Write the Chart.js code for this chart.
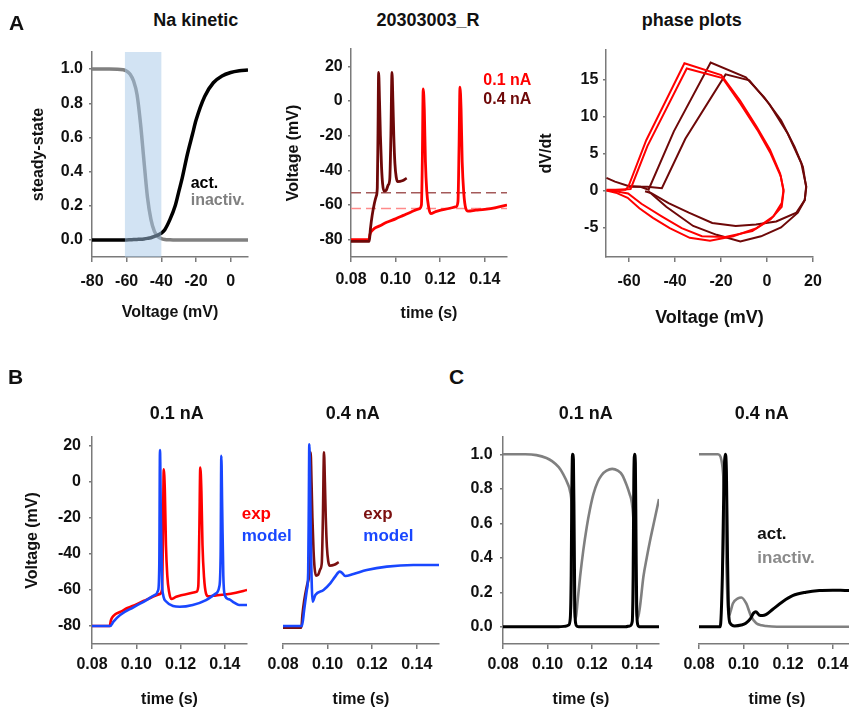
<!DOCTYPE html>
<html><head><meta charset="utf-8">
<script src="https://cdn.jsdelivr.net/npm/chart.js@4.4.0/dist/chart.umd.min.js"></script>
<style>
html,body{margin:0;padding:0;width:849px;height:711px;overflow:hidden;background:#fff;position:relative;}
canvas{position:absolute;}
.t{position:absolute;font-family:"Liberation Sans",Arial,Helvetica,sans-serif;font-weight:bold;white-space:nowrap;line-height:1;}
</style></head><body>
<script>
// ---------- DATA ----------
// A: Na kinetic (steady-state vs voltage)
const naV     = [-80,-70,-62,-60,-58,-56,-54,-52,-50,-48,-46,-44,-42,-40,-38,-35,-32,-30,-28,-25,-22,-20,-15,-10,-5,0,5,10];
const naAct   = [0,0,0,0,0.001,0.002,0.003,0.004,0.006,0.009,0.013,0.02,0.028,0.04,0.06,0.12,0.2,0.28,0.36,0.5,0.62,0.7,0.84,0.92,0.96,0.98,0.99,0.995];
const naInact = [1,1,0.996,0.988,0.97,0.93,0.85,0.68,0.46,0.25,0.12,0.05,0.02,0.008,0.003,0.001,0,0,0,0,0,0,0,0,0,0,0,0];
const shadeRange = [-61, -40];

// experimental traces (time s, voltage mV)
const tExp01 = [0.080,0.0880,0.0885,0.0890,0.0905,0.0930,0.0960,0.1000,0.1035,0.1070,0.1105,0.1116,0.1120,0.1124,0.1129,0.1134,0.1140,0.1148,0.1158,0.1180,0.1220,0.1272,0.1280,0.1285,0.1289,0.1294,0.1299,0.1306,0.1315,0.1325,0.1360,0.1400,0.1450,0.1500];
const vExp01 = [-80,-80,-77,-75.5,-73.5,-72,-70,-68,-66,-64,-62.3,-60,-35,7,-5,-35,-52,-61,-65,-63.8,-62.5,-61,-58,-25,8,-5,-35,-53,-62,-63.5,-63,-62.5,-61.5,-60];
const tExp04 = [0.080,0.0882,0.0887,0.0895,0.0905,0.0913,0.0918,0.0921,0.0924,0.0928,0.0932,0.0937,0.0942,0.0948,0.0958,0.0967,0.0974,0.0979,0.0984,0.0988,0.0992,0.0997,0.1003,0.1010,0.1030,0.1050];
const vExp04 = [-81,-81,-74,-66,-59,-55,-50,-20,16.5,0,-20,-38,-48,-52,-51.5,-48.5,-45,-20,16.5,0,-20,-36,-44,-46.5,-46,-44.5];
const thresholds = [-53, -62];
const tSpan = [0.08, 0.15];

// phase plots (V mV, dV/dt)
const red1V  = [-69.8,-65,-61.5,-60.3,-52.5,-35.9,-19.9,-11.8,-4.5,1.3,5.7,7.2,6.4,2.8,-4.5,-14.7,-24.8,-33.6,-42.3,-49.6,-55.5,-60.6,-65.7,-69.8];
const red1D  = [0.1,0.1,0.1,0.5,6.8,17.2,15.6,12.2,8.6,5.5,2.3,0.1,-1.7,-3.5,-5.1,-6.2,-6.8,-6.4,-5.1,-3.7,-2.4,-1.0,-0.3,0.0];
const red2V  = [-69.8,-64,-59.3,-52,-34.9,-19.3,-11.5,-4.2,1.6,6.0,7.2,6.4,1.6,-6.4,-18.1,-28.3,-37.1,-45.8,-54.6,-60.4,-67.6,-69.8];
const red2D  = [0.0,0.1,0.2,6.0,16.5,15.2,11.7,8.2,5.0,1.9,-0.1,-2.2,-3.9,-5.5,-6.3,-6.2,-5.1,-3.5,-1.8,-0.4,0.0,0.0];
const dred1V = [-69.8,-66.1,-60.3,-55,-51.5,-40.5,-24.5,-9.2,-1.2,6.1,12,15.6,17,16.4,13.4,6.1,-2.6,-11.6,-21.9,-32.1,-43.8,-51.5];
const dred1D = [1.7,1.2,0.6,0.5,0.1,8.0,17.3,15.3,12.6,9.5,5.9,3.2,0.5,-1.3,-3.0,-5.0,-6.2,-6.9,-6.0,-4.8,-2.2,-0.1];
const dred2V = [-60,-52,-45.7,-35.5,-18,-7.7,1,9,14.9,17.1,16.4,12.8,4,-4.8,-13.6,-23.8,-34,-42.8,-50.1,-53];
const dred2D = [0.5,0.5,0.3,7.0,15.7,14.9,11.7,7.7,3.7,0.5,-1.3,-3.0,-4.2,-4.6,-4.8,-4.4,-3.0,-1.7,-0.4,-0.1];

// model traces
const tMod01 = [0.080,0.0882,0.0897,0.0927,0.0987,0.1046,0.1084,0.1099,0.1104,0.1107,0.1111,0.1116,0.1121,0.1136,0.1166,0.1196,0.1255,0.1315,0.1360,0.1375,0.1381,0.1384,0.1388,0.1393,0.1400,0.1419,0.1442,0.1464,0.1500];
const vMod01 = [-80,-80,-77.6,-73.9,-69.6,-65.6,-62.8,-60,-45,17.8,-20,-55,-62.5,-66.5,-68.9,-69.3,-68.3,-65.6,-61.9,-58,-40,14.6,-15,-52,-63,-65.2,-67,-68.3,-68.3];
const tMod04 = [0.080,0.0885,0.0895,0.0907,0.0913,0.0916,0.0918,0.0921,0.0926,0.0933,0.0945,0.0982,0.1012,0.1034,0.1054,0.1065,0.1079,0.1116,0.1176,0.1266,0.1385,0.1500];
const vMod04 = [-80,-80,-71,-60,-50,-10,21,5,-40,-66.5,-62.8,-60,-56.3,-52.6,-49.8,-50.5,-52.2,-51.1,-48.9,-47,-46.1,-46.1];

// model gating variables
const tActC01 = [0.080,0.1050,0.1080,0.1095,0.1102,0.1106,0.1109,0.1112,0.1116,0.1119,0.1122,0.1126,0.1132,0.1140,0.1350,0.1370,0.1380,0.1384,0.1387,0.1390,0.1394,0.1397,0.1400,0.1405,0.1410,0.1500];
const actC01  = [0,0,0.003,0.01,0.05,0.3,0.8,1.0,0.97,0.6,0.15,0.02,0.003,0,0,0.005,0.03,0.3,0.85,1.0,0.95,0.5,0.1,0.01,0,0];
const tInC01  = [0.080,0.090,0.095,0.0995,0.102,0.105,0.107,0.109,0.110,0.1108,0.1114,0.1119,0.1123,0.1128,0.1135,0.1146,0.116,0.1176,0.119,0.1206,0.1225,0.1243,0.1265,0.129,0.1315,0.1335,0.1355,0.1368,0.1378,0.1386,0.1393,0.1399,0.1405,0.1415,0.143,0.1445,0.146,0.148,0.150];
const inC01   = [1.0,1.0,0.995,0.978,0.96,0.925,0.885,0.83,0.79,0.7,0.4,0.12,0.045,0.06,0.15,0.29,0.44,0.58,0.68,0.77,0.84,0.88,0.905,0.915,0.905,0.88,0.82,0.77,0.72,0.6,0.3,0.08,0.05,0.12,0.29,0.4,0.5,0.62,0.74];
const tActC04 = [0.080,0.0895,0.0905,0.0912,0.0918,0.0923,0.0928,0.0933,0.0940,0.0960,0.0990,0.1010,0.1030,0.1045,0.1055,0.1070,0.1085,0.1100,0.1130,0.1175,0.1220,0.1280,0.1340,0.1400,0.1470,0.1500];
const actC04  = [0,0,0.3,0.85,1.0,0.9,0.4,0.08,0.02,0.005,0.01,0.02,0.045,0.08,0.087,0.068,0.065,0.07,0.1,0.145,0.18,0.2,0.21,0.212,0.21,0.21];
const tInC04  = [0.080,0.0885,0.0900,0.0910,0.0922,0.0929,0.0935,0.0942,0.0952,0.0975,0.0990,0.1012,0.1034,0.1057,0.1080,0.1100,0.1150,0.1500];
const inC04   = [1.0,1.0,0.97,0.85,0.39,0.12,0.065,0.09,0.135,0.165,0.17,0.135,0.06,0.02,0.008,0.004,0,0];

// tick values / labels
const voltTicksA1 = [-80,-60,-40,-20,0];
const voltLabelsA1 = ['-80','-60','-40','-20','0'];
const ssTicks = [0,0.2,0.4,0.6,0.8,1.0];
const ssLabels = ['0.0','0.2','0.4','0.6','0.8','1.0'];
const timeTicks = [0.08,0.10,0.12,0.14];
const timeLabels = ['0.08','0.10','0.12','0.14'];
const mvTicks = [-80,-60,-40,-20,0,20];
const mvLabels = ['-80','-60','-40','-20','0','20'];
const phaseXTicks = [-60,-40,-20,0,20];
const phaseXLabels = ['-60','-40','-20','0','20'];
const phaseYTicks = [-5,0,5,10,15];
const phaseYLabels = ['-5','0','5','10','15'];

// ---------- DRAWING ----------
const FAM = '"Liberation Sans", Arial, Helvetica, sans-serif';
const TXT = '#111';
const AX = '#7a7a7a';
const RED = '#ff0000', DRED = '#6e0808', BLUE = '#1947ff', GRAY = '#808080', BLK = '#000000';

function pts(xs, ys){ return xs.map((x,i)=>({x:x, y:ys[i]})); }
function ds(xs, ys, color, width, extra){
  return Object.assign({data:pts(xs,ys), borderColor:color, backgroundColor:color, borderWidth:width,
    pointRadius:0, pointHoverRadius:0, showLine:true, fill:false, tension:0}, extra||{});
}
const mono = {cubicInterpolationMode:'monotone'};

function makePanel(p){
  const cv = document.createElement('canvas');
  cv.width = p.box.w; cv.height = p.box.h;
  Object.assign(cv.style, {left:p.box.l+'px', top:p.box.t+'px', width:p.box.w+'px', height:p.box.h+'px'});
  document.body.appendChild(cv);
  const tickFont = {family:FAM, size:16, weight:'bold'};
  const x = {
    type:'linear', min:p.x.min, max:p.x.max,
    afterBuildTicks:a=>{ a.ticks = p.x.ticks.map(v=>({value:v})); },
    afterFit:s=>{ s.height = p.box.t + p.box.h - p.area.b; },
    ticks:{autoSkip:false, maxRotation:0, minRotation:0, padding:p.x.tickPad, font:tickFont, color:TXT,
      callback:(v,i)=>p.x.labels[i]},
    grid:{display:true, drawOnChartArea:false, drawTicks:true, tickLength:5, color:AX, lineWidth:1.5},
    border:{display:true, color:AX, width:1.5},
    title:{display:true, text:p.x.title, color:TXT, font:{family:FAM, size:p.x.titleSize||16, weight:'bold'},
      padding:{top:0, bottom:p.x.titlePad}}
  };
  let y;
  const yShow = !!p.y.ticks;
  if (yShow) {
    y = {
      type:'linear', min:p.y.min, max:p.y.max,
      afterBuildTicks:a=>{ a.ticks = p.y.ticks.map(v=>({value:v})); },
      afterFit:s=>{ s.width = p.area.l - p.box.l; },
      ticks:{autoSkip:false, padding:p.y.tickPad, font:tickFont, color:TXT, callback:(v,i)=>p.y.labels[i]},
      grid:{display:true, drawOnChartArea:false, drawTicks:true, tickLength:3, color:AX, lineWidth:1.5},
      border:{display:true, color:AX, width:1.5},
      title:{display:!!p.y.title, text:p.y.title||'', color:TXT, font:{family:FAM, size:p.y.titleSize||16, weight:'bold'},
        padding:{top:p.y.titlePad||0, bottom:0}}
    };
  } else {
    y = {type:'linear', display:false, min:p.y.min, max:p.y.max};
  }
  new Chart(cv, {
    type:'scatter',
    data:{datasets:p.datasets},
    options:{
      responsive:false, animation:false, events:[],
      layout:{padding:{left: yShow ? 0 : p.area.l - p.box.l, top:p.area.t - p.box.t, right:p.box.l + p.box.w - p.area.r, bottom:0}},
      plugins:{legend:{display:false}, tooltip:{enabled:false}, title:{display:false}},
      scales:{x:x, y:y}
    },
    plugins:p.plugins||[]
  });
}

const shadePlugin = {
  id:'shade',
  afterDatasetsDraw(chart){
    const {ctx, chartArea:a, scales:{x}} = chart;
    const x0 = x.getPixelForValue(shadeRange[0]), x1 = x.getPixelForValue(shadeRange[1]);
    ctx.save();
    ctx.fillStyle = 'rgba(165,200,232,0.5)';
    ctx.fillRect(x0, a.top, x1 - x0, a.bottom - a.top);
    ctx.restore();
  }
};

// A1
makePanel({
  box:{l:0,t:30,w:260,h:305}, area:{l:92,r:248,t:52,b:257},
  x:{min:-80,max:10,ticks:voltTicksA1,labels:voltLabelsA1,tickPad:10,title:'Voltage (mV)',titlePad:12.4},
  y:{min:-0.1,max:1.1,ticks:ssTicks,labels:ssLabels,tickPad:6,title:'steady-state',titlePad:28.7},
  datasets:[ds(naV,naAct,BLK,3.5,mono), ds(naV,naInact,GRAY,3.5,mono)],
  plugins:[shadePlugin]
});
// A2
makePanel({
  box:{l:270,t:30,w:250,h:305}, area:{l:351,r:507,t:49,b:257},
  x:{min:0.08,max:0.15,ticks:timeTicks,labels:timeLabels,tickPad:8.4,title:'time (s)',titlePad:12.1},
  y:{min:-90,max:30,ticks:mvTicks,labels:mvLabels,tickPad:5.3,title:'Voltage (mV)',titlePad:13.7},
  datasets:[
    ds(tExp04,vExp04,DRED,2.8,mono),
    ds(tExp01,vExp01,RED,2.8,mono),
    ds(tSpan,[thresholds[0],thresholds[0]],'#a45a5a',1.5,{borderDash:[10,5]}),
    ds(tSpan,[thresholds[1],thresholds[1]],'#ff8a8a',1.5,{borderDash:[10,5]})
  ]
});
// A3
makePanel({
  box:{l:530,t:30,w:308,h:310}, area:{l:606,r:813,t:50,b:257},
  x:{min:-70,max:20,ticks:phaseXTicks,labels:phaseXLabels,tickPad:10,title:'Voltage (mV)',titlePad:10.9,titleSize:18},
  y:{min:-9,max:19,ticks:phaseYTicks,labels:phaseYLabels,tickPad:4.7,title:'dV/dt',titlePad:7.1},
  datasets:[
    ds(red1V,red1D,RED,2), ds(red2V,red2D,RED,2),
    ds(dred1V,dred1D,DRED,2), ds(dred2V,dred2D,DRED,2)
  ]
});
// B1
makePanel({
  box:{l:0,t:417,w:260,h:294}, area:{l:92,r:247,t:437,b:644},
  x:{min:0.08,max:0.15,ticks:timeTicks,labels:timeLabels,tickPad:6.4,title:'time (s)',titlePad:1.4},
  y:{min:-90,max:25,ticks:mvTicks,labels:mvLabels,tickPad:8,title:'Voltage (mV)',titlePad:23.4},
  datasets:[ds(tMod01,vMod01,BLUE,2.6,mono), ds(tExp01,vExp01,RED,2.6,mono)]
});
// B2
makePanel({
  box:{l:250,t:417,w:210,h:294}, area:{l:283,r:439,t:437,b:644},
  x:{min:0.08,max:0.15,ticks:timeTicks,labels:timeLabels,tickPad:6.4,title:'time (s)',titlePad:1.4},
  y:{min:-90,max:25},
  datasets:[ds(tMod04,vMod04,BLUE,2.6,mono), ds(tExp04,vExp04,'#7b1010',2.6,mono)]
});
// C1
makePanel({
  box:{l:420,t:417,w:250,h:294}, area:{l:503,r:659,t:437,b:644},
  x:{min:0.08,max:0.15,ticks:timeTicks,labels:timeLabels,tickPad:6.4,title:'time (s)',titlePad:1.4},
  y:{min:-0.1,max:1.1,ticks:ssTicks,labels:ssLabels,tickPad:7.3},
  datasets:[ds(tActC01,actC01,BLK,3,mono), ds(tInC01,inC01,GRAY,2.6,mono)]
});
// C2
makePanel({
  box:{l:670,t:417,w:200,h:294}, area:{l:699,r:855,t:437,b:644},
  x:{min:0.08,max:0.15,ticks:timeTicks,labels:timeLabels,tickPad:6.4,title:'time (s)',titlePad:1.4},
  y:{min:-0.1,max:1.1},
  datasets:[ds(tActC04,actC04,BLK,3,mono), ds(tInC04,inC04,GRAY,2.6,mono)]
});

// ---------- TEXT ----------
const texts = [
  ['A',9,22,21,TXT,false], ['B',8,376,21,TXT,false], ['C',449,376,21,TXT,false],
  ['Na kinetic',195.7,20,18,TXT,true], ['20303003_R',428,20,18,TXT,true], ['phase plots',691.7,20,18,TXT,true],
  ['0.1 nA',176.7,413,18,TXT,true], ['0.4 nA',352.7,413,18,TXT,true],
  ['0.1 nA',585.7,413,18,TXT,true], ['0.4 nA',761.7,413,18,TXT,true],
  ['act.',190.7,183,16,BLK,false], ['inactiv.',190.7,200,16,GRAY,false],
  ['0.1 nA',483.3,80,16,RED,false], ['0.4 nA',483.3,99.3,16,DRED,false],
  ['exp',241.7,513.3,17,RED,false], ['model',241.7,535,17,BLUE,false],
  ['exp',363.3,513.3,17,'#7b1010',false], ['model',363.3,535,17,BLUE,false],
  ['act.',757.3,533.3,17,'#111',false], ['inactiv.',757.3,556.7,17,'#8a8a8a',false]
];
texts.forEach(([s,x,y,size,color,center])=>{
  const d = document.createElement('div');
  d.className = 't'; d.textContent = s;
  d.style.left = x+'px'; d.style.top = y+'px'; d.style.fontSize = size+'px'; d.style.color = color;
  d.style.transform = center ? 'translate(-50%,-50%)' : 'translateY(-50%)';
  document.body.appendChild(d);
});
</script>
</body></html>
